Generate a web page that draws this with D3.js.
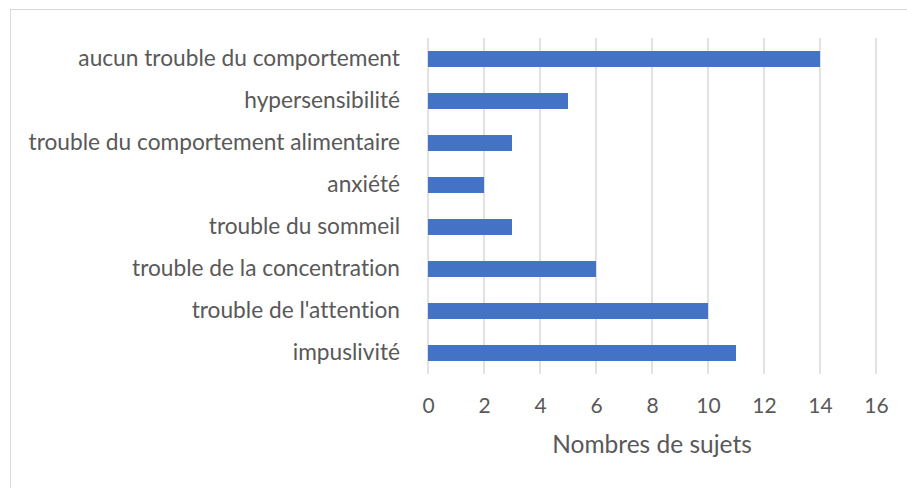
<!DOCTYPE html>
<html>
<head>
<meta charset="utf-8">
<script src="https://cdn.jsdelivr.net/npm/d3@7"></script>
<style>
  body { margin: 0; background: #fff; }
  text { font-family: Lato, sans-serif; fill: #595959; font-variant-ligatures: none; }
</style>
</head>
<body>
<svg id="chart"></svg>
<script>
// categories top to bottom, with counts
var categories = [
    'aucun trouble du comportement',
    'hypersensibilité',
    'trouble du comportement alimentaire',
    'anxiété',
    'trouble du sommeil',
    'trouble de la concentration',
    "trouble de l'attention",
    'impuslivité'
];
var counts = [14, 5, 3, 2, 3, 6, 10, 11];
var xTicks = [0, 2, 4, 6, 8, 10, 12, 14, 16];

var width = 907;
var height = 488;

var svg = d3.select('#chart')
    .attr('width', width)
    .attr('height', height);

// chart frame (cut off at the right and bottom)
svg.append('rect')
    .attr('x', 10.5)
    .attr('y', 9.5)
    .attr('width', 910)
    .attr('height', 490)
    .attr('fill', 'none')
    .attr('stroke', '#d9d9d9');

var xScale = d3.scaleLinear()
    .domain([0, 16])
    .range([428, 876]);

var yScale = d3.scaleBand()
    .domain(categories)
    .range([38, 374])
    .paddingInner(0.62)
    .paddingOuter(0.31);

// vertical gridlines
svg.append('g')
    .selectAll('line')
    .data(xTicks)
    .enter()
    .append('line')
    .attr('x1', d => xScale(d))
    .attr('x2', d => xScale(d))
    .attr('y1', 38)
    .attr('y2', 374)
    .attr('stroke', '#d9d9d9')
    .attr('stroke-width', 1.5);

// bars
svg.append('g')
    .selectAll('rect')
    .data(categories)
    .enter()
    .append('rect')
    .attr('x', xScale(0))
    .attr('y', d => yScale(d))
    .attr('width', (d, i) => xScale(counts[i]) - xScale(0))
    .attr('height', yScale.bandwidth())
    .attr('fill', '#4472c4');

// x axis labels
var xAxis = d3.axisBottom(xScale).tickValues(xTicks).tickSize(0).tickPadding(24);
var gx = svg.append('g')
    .attr('transform', 'translate(0,374)')
    .call(xAxis);
gx.select('.domain').remove();
gx.selectAll('text')
    .style('font-size', '21px')
    .style('font-family', 'Lato, sans-serif')
    .attr('fill', '#595959');

// category labels
var yAxis = d3.axisLeft(yScale).tickSize(0).tickPadding(28);
var gy = svg.append('g')
    .attr('transform', 'translate(428,0)')
    .call(yAxis);
gy.select('.domain').remove();
gy.selectAll('text')
    .style('font-size', '22.7px')
    .style('font-family', 'Lato, sans-serif')
    .attr('fill', '#595959');

// axis title
svg.append('text')
    .attr('x', 652)
    .attr('y', 453)
    .attr('text-anchor', 'middle')
    .style('font-size', '24.5px')
    .text('Nombres de sujets');
</script>
</body>
</html>
